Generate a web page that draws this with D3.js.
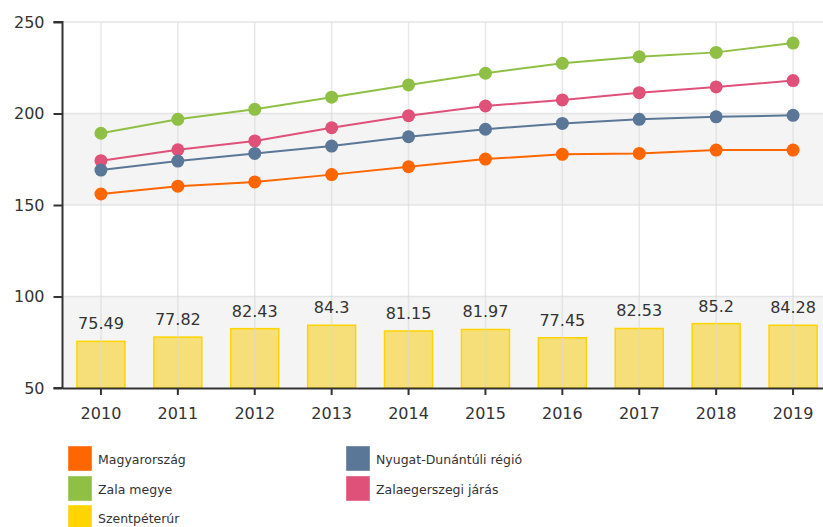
<!DOCTYPE html>
<html>
<head>
<meta charset="utf-8">
<script src="https://cdn.jsdelivr.net/npm/d3@7"></script>
<style>
  html, body { margin: 0; padding: 0; background: #fff; }
  svg { display: block; font-family: "DejaVu Sans", Verdana, sans-serif; }
</style>
</head>
<body>
<svg id="chart" width="823" height="527"></svg>
<script>
const years = ["2010","2011","2012","2013","2014","2015","2016","2017","2018","2019"];
const magyarorszag = [156, 160.3, 162.6, 166.6, 170.9, 175.1, 177.7, 178.2, 180, 180];
const nyugatDunantuli = [169.1, 174, 178.2, 182.2, 187.3, 191.4, 194.6, 196.8, 198.2, 199];
const zalaMegye = [189.2, 196.8, 202.3, 208.9, 215.6, 222, 227.4, 231, 233.4, 238.5];
const zalaegerszegi = [174.2, 180.2, 185, 192.2, 198.8, 204.1, 207.4, 211.4, 214.5, 218];
const szentpeterur = [75.49, 77.82, 82.43, 84.3, 81.15, 81.97, 77.45, 82.53, 85.2, 84.28];
const yTicks = [50, 100, 150, 200, 250];

const lineSeries = [
  { name: "Zala megye", values: zalaMegye, color: "#8fc045" },
  { name: "Zalaegerszegi járás", values: zalaegerszegi, color: "#e0517a" },
  { name: "Nyugat-Dunántúli régió", values: nyugatDunantuli, color: "#5b7797" },
  { name: "Magyarország", values: magyarorszag, color: "#ff6600" }
];
const legendItems = [
  { name: "Magyarország", color: "#ff6600", col: 0, row: 0 },
  { name: "Nyugat-Dunántúli régió", color: "#5b7797", col: 1, row: 0 },
  { name: "Zala megye", color: "#8fc045", col: 0, row: 1 },
  { name: "Zalaegerszegi járás", color: "#e0517a", col: 1, row: 1 },
  { name: "Szentpéterúr", color: "#ffd400", col: 0, row: 2 }
];

(function () {
const svg = d3.select("#chart");
const pLeft = 62.5, pRight = 831.5, pTop = 22, pBottom = 388;

const x = d3.scaleBand().domain(years).range([pLeft, pRight]);
const y = d3.scaleLinear().domain([50, 250]).range([pBottom, pTop]);
const cx = d => x(d) + x.bandwidth() / 2;

// alternate bands
const bands = [[50, 100], [150, 200]];
svg.append("g").selectAll("rect").data(bands).join("rect")
  .attr("x", pLeft).attr("width", pRight - pLeft)
  .attr("y", d => y(d[1])).attr("height", d => y(d[0]) - y(d[1]))
  .attr("fill", "#f4f4f4");

// horizontal grid
svg.append("g").selectAll("line").data(yTicks.filter(t => t > 50)).join("line")
  .attr("x1", pLeft).attr("x2", pRight)
  .attr("y1", d => y(d)).attr("y2", d => y(d))
  .attr("stroke", "#e4e4e4").attr("stroke-width", 1.5);

// bars
const barW = 48;
svg.append("g").selectAll("rect").data(years).join("rect")
  .attr("x", d => cx(d) - barW / 2)
  .attr("width", barW)
  .attr("y", (d, i) => y(szentpeterur[i]))
  .attr("height", (d, i) => pBottom - y(szentpeterur[i]))
  .attr("fill", "#f6df78")
  .attr("stroke", "#ffd400").attr("stroke-width", 1.5);

// vertical grid (drawn over bars faintly)
svg.append("g").selectAll("line").data(years).join("line")
  .attr("x1", d => cx(d)).attr("x2", d => cx(d))
  .attr("y1", pTop).attr("y2", pBottom)
  .attr("stroke", "#d8d8d8").attr("stroke-opacity", 0.6).attr("stroke-width", 1.5);

// bar labels
svg.append("g").selectAll("text").data(years).join("text")
  .attr("x", d => cx(d))
  .attr("y", (d, i) => y(szentpeterur[i]) - 12)
  .attr("text-anchor", "middle")
  .attr("font-size", 16).attr("fill", "#333")
  .text((d, i) => String(szentpeterur[i]));

// lines
const line = d3.line().x((d, i) => cx(years[i])).y(d => y(d));
lineSeries.forEach(s => {
  svg.append("path").datum(s.values)
    .attr("d", line)
    .attr("fill", "none").attr("stroke", s.color).attr("stroke-width", 2);
  svg.append("g").selectAll("circle").data(s.values).join("circle")
    .attr("cx", (d, i) => cx(years[i])).attr("cy", d => y(d))
    .attr("r", 6.5).attr("fill", s.color);
});

// axes
const yAxis = d3.axisLeft(y).tickValues(yTicks).tickSize(9).tickPadding(9);
const gy = svg.append("g").attr("transform", `translate(${pLeft},0)`).call(yAxis);
gy.select(".domain").attr("stroke", "#333").attr("stroke-width", 2).attr("d", `M-9,${pTop}H0V${pBottom}H-9`);
gy.selectAll(".tick line").attr("stroke", "#333").attr("stroke-width", 2);
gy.selectAll(".tick text").attr("font-size", 16).attr("fill", "#333").attr("font-family", "DejaVu Sans, Verdana, sans-serif");

const xAxis = d3.axisBottom(x).tickSize(7).tickSizeOuter(0).tickPadding(13);
const gx = svg.append("g").attr("transform", `translate(0,${pBottom})`).call(xAxis);
gx.select(".domain").attr("stroke", "#333").attr("stroke-width", 2);
gx.selectAll(".tick line").attr("stroke", "#333").attr("stroke-width", 2);
gx.selectAll(".tick text").attr("font-size", 16).attr("fill", "#333").attr("font-family", "DejaVu Sans, Verdana, sans-serif");

// legend
const lg = svg.append("g");
const colX = [68, 346], rowY = [446, 476, 505];
const items = lg.selectAll("g").data(legendItems).join("g")
  .attr("transform", d => `translate(${colX[d.col]},${rowY[d.row]})`);
items.append("rect").attr("width", 24).attr("height", 25).attr("fill", d => d.color)
  .attr("stroke", "#fff").attr("stroke-opacity", 0.4);
items.append("text").attr("x", 30).attr("y", 17.5)
  .attr("font-size", 12.5).attr("fill", "#333").text(d => d.name);
})();
</script>
</body>
</html>
